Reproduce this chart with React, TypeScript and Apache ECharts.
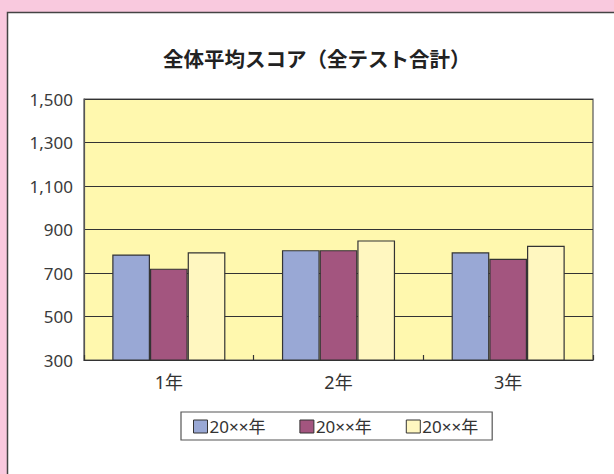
import React, { useEffect, useRef } from "react";
import * as echarts from "echarts";

const title = "全体平均スコア（全テスト合計）";
const categories = ["1年", "2年", "3年"];
const seriesNames = ["20××年", "20××年", "20××年"];
const seriesA = [785, 805, 795];
const seriesB = [720, 805, 765];
const seriesC = [795, 850, 825];
const colors = ["#99a8d5", "#a3557f", "#fff7c0"];
const yMin = 300;
const yMax = 1500;
const yInterval = 100 * 2;

export default function App() {
  const ref = useRef<HTMLDivElement>(null);
  useEffect(() => {
    if (!ref.current) return;
    const chart = echarts.init(ref.current, undefined, { renderer: "svg" });
    const font = "'Noto Sans', 'Noto Sans CJK JP', sans-serif";
    const cjk = "'Noto Sans CJK JP', sans-serif";
    const values = [seriesA, seriesB, seriesC];
    chart.setOption({
      animation: false,
      backgroundColor: "#f9c9de",
      textStyle: { fontFamily: font },
      graphic: [
        {
          type: "rect",
          z: -10,
          shape: { x: 7.5, y: 12.5, width: 700, height: 600 },
          style: { fill: "#ffffff", stroke: "#444", lineWidth: 1.5 },
        },
      ],
      title: {
        text: title,
        left: 158,
        top: 43,
        textStyle: { fontSize: 20.5, fontWeight: "bold", color: "#222", fontFamily: cjk },
      },
      grid: {
        left: 84,
        right: 21,
        top: 99,
        bottom: 114,
        show: true,
        backgroundColor: "#fff8ae",
        borderColor: "#555",
        borderWidth: 1.2,
        containLabel: false,
      },
      legend: {
        left: 181,
        top: 412,
        padding: [6, 14, 5, 12],
        borderColor: "#555",
        borderWidth: 1.2,
        backgroundColor: "#fff",
        itemWidth: 14,
        itemHeight: 13,
        itemGap: 34,
        icon: "rect",
        itemStyle: { borderColor: "#333", borderWidth: 1 },
        data: ["s0", "s1", "s2"],
        formatter: (name: string) => seriesNames[Number(name.slice(1))],
        textStyle: { fontSize: 17, color: "#333", fontFamily: font, padding: [0, 0, 0, -3] },
      },
      xAxis: {
        type: "category",
        data: categories,
        axisLine: { show: true, lineStyle: { color: "#333", width: 1.2 } },
        axisTick: { show: true, inside: true, length: 5, lineStyle: { color: "#333", width: 1.2 } },
        axisLabel: { fontSize: 18, color: "#333", margin: 13, fontFamily: font },
      },
      yAxis: {
        type: "value",
        min: yMin,
        max: yMax,
        interval: yInterval,
        axisLine: { show: true, lineStyle: { color: "#555", width: 1.2 } },
        axisTick: { show: false },
        axisLabel: {
          fontSize: 17,
          color: "#3a3a3a",
          margin: 11,
          fontFamily: font,
          formatter: (v: number) => v.toLocaleString("en-US"),
        },
        splitLine: { show: true, lineStyle: { color: "#333", width: 1.2 } },
      },
      series: values.map((d, i) => ({
        name: "s" + i,
        type: "bar",
        data: d,
        barWidth: 37.7,
        barGap: "0%",
        itemStyle: { color: colors[i], borderColor: "#333", borderWidth: 1.2 },
      })),
    });
    return () => chart.dispose();
  }, []);
  return (
    <div
      ref={ref}
      style={{ position: "absolute", left: 0, top: 0, width: 614, height: 474 }}
    />
  );
}
